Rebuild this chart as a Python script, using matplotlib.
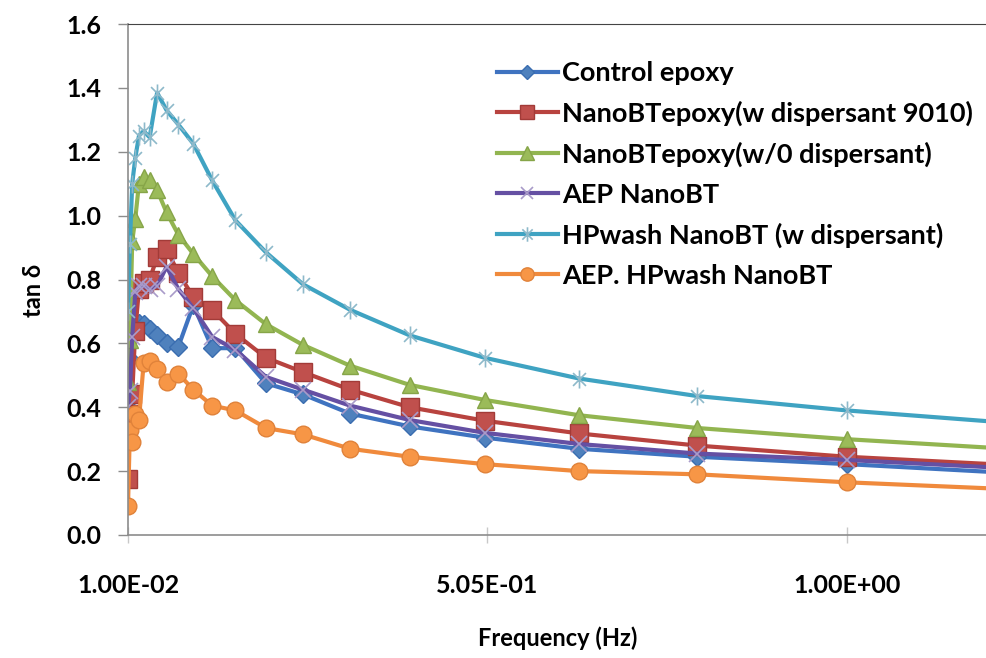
import matplotlib
matplotlib.use("Agg")
import matplotlib.pyplot as plt
from matplotlib.path import Path

# -------------------------------
# Data: loss tangent vs frequency
# -------------------------------
freq = [0.01, 0.0126, 0.0158, 0.02, 0.0251, 0.0316, 0.0398, 0.0501, 0.0631, 0.0794,
        0.1, 0.126, 0.158, 0.2, 0.251, 0.316, 0.398, 0.501, 0.631, 0.794, 1.0, 1.259]

control_epoxy = [0.40, 0.55, 0.64, 0.66, 0.665, 0.66, 0.645, 0.625, 0.60, 0.59,
                 0.72, 0.585, 0.585, 0.475, 0.44, 0.38, 0.34, 0.305, 0.27, 0.245, 0.222, 0.19]
bt_disp_9010 = [0.175, 0.38, 0.44, 0.64, 0.77, 0.79, 0.80, 0.87, 0.895, 0.82,
                0.745, 0.705, 0.63, 0.555, 0.51, 0.455, 0.40, 0.358, 0.318, 0.28, 0.245, 0.215]
bt_no_disp = [0.48, 0.61, 0.92, 0.99, 1.10, 1.12, 1.11, 1.08, 1.01, 0.94,
              0.88, 0.81, 0.735, 0.66, 0.595, 0.53, 0.47, 0.423, 0.375, 0.335, 0.3, 0.265]
aep_bt = [0.40, 0.45, 0.62, 0.76, 0.78, 0.78, 0.77, 0.78, 0.84, 0.77,
          0.71, 0.62, 0.58, 0.495, 0.455, 0.405, 0.36, 0.32, 0.285, 0.255, 0.235, 0.205]
hpwash_bt = [0.70, 0.91, 1.10, 1.18, 1.25, 1.265, 1.245, 1.385, 1.33, 1.285,
             1.225, 1.11, 0.985, 0.885, 0.785, 0.705, 0.625, 0.555, 0.49, 0.435, 0.39, 0.345]
aep_hpwash_bt = [0.09, 0.33, 0.29, 0.38, 0.36, 0.54, 0.545, 0.52, 0.48, 0.505,
                 0.455, 0.405, 0.39, 0.335, 0.315, 0.27, 0.245, 0.222, 0.2, 0.19, 0.165, 0.14]

labels = ["Control epoxy",
          "NanoBTepoxy(w dispersant 9010)",
          "NanoBTepoxy(w/0 dispersant)",
          "AEP NanoBT",
          "HPwash NanoBT (w dispersant)",
          "AEP. HPwash NanoBT"]

xticks = [0.01, 0.505, 1.0]
xtick_labels = ["1.00E-02", "5.05E-01", "1.00E+00"]
yticks = [0.0, 0.2, 0.4, 0.6, 0.8, 1.0, 1.2, 1.4, 1.6]

# -------------------------------
# Styling
# -------------------------------
plt.rcParams['font.family'] = ['Lato', 'DejaVu Sans']
plt.rcParams['font.weight'] = 'bold'
plt.rcParams['axes.labelweight'] = 'bold'

# asterisk-like marker: an X plus a vertical stroke
star = Path([(-1, -1), (1, 1), (-1, 1), (1, -1), (0, -1.4), (0, 1.4)],
            [Path.MOVETO, Path.LINETO, Path.MOVETO, Path.LINETO, Path.MOVETO, Path.LINETO])

styles = [
    dict(color='#3F73C0', marker='D', ms=9, mfc='#4F81BD', mec='#3A6DB0'),
    dict(color='#B8433F', marker='s', ms=13, mfc='#C0504D', mec='#A23B38'),
    dict(color='#92B550', marker='^', ms=12, mfc='#9BBB59', mec='#86A548'),
    dict(color='#6550A3', marker='x', ms=11, mec='#A99BC9', mew=1.2),
    dict(color='#3FA3C2', marker=star, ms=13, mec='#8DB9CA', mew=1.2),
    dict(color='#F08A3C', marker='o', ms=12, mfc='#F79646', mec='#E0823A'),
]

series = [control_epoxy, bt_disp_9010, bt_no_disp, aep_bt, hpwash_bt, aep_hpwash_bt]

# -------------------------------
# Plot
# -------------------------------
fig = plt.figure(figsize=(9.87, 6.58), dpi=100)
ax = fig.add_axes([128 / 987, 1 - 535 / 658, 859 / 987, 511 / 658])

handles = []
for vals, lab, st in zip(series, labels, styles):
    h, = ax.plot(freq, vals, lw=3, label=lab, **st)
    handles.append(h)

ax.set_xlim(0.01, 1.193)
ax.set_ylim(0, 1.6)
ax.set_xticks(xticks)
ax.set_xticklabels(xtick_labels)
ax.set_yticks(yticks)
ax.set_yticklabels([f"{v:.1f}" for v in yticks])

for side in ['left', 'bottom']:
    ax.spines[side].set_color('#8C8C8C')
    ax.spines[side].set_linewidth(1.2)
ax.spines['top'].set_color('#444444')
ax.spines['right'].set_visible(False)

ax.tick_params(axis='y', direction='out', length=7, width=1, color='#8C8C8C',
               pad=12, labelsize=18)
ax.tick_params(axis='x', direction='inout', length=12, width=1, color='#C8C8C8',
               pad=22, labelsize=18)

ax.set_xlabel("Frequency (Hz)", fontsize=17, va='center')
ax.xaxis.set_label_coords(0.5, -(638 - 535) / 511)
ax.set_ylabel("tan δ", fontsize=17, va='center')
ax.yaxis.set_label_coords(-(128 - 33) / 859, 0.479)

fig.legend(handles=handles, loc='upper left', bbox_to_anchor=(497 / 987, 1 - 61 / 658),
           frameon=False, fontsize=19.5, handlelength=2.25, handletextpad=0.15,
           labelspacing=0.58, borderpad=0, borderaxespad=0, markerscale=0.8)

fig.savefig("out.png", dpi=100)
